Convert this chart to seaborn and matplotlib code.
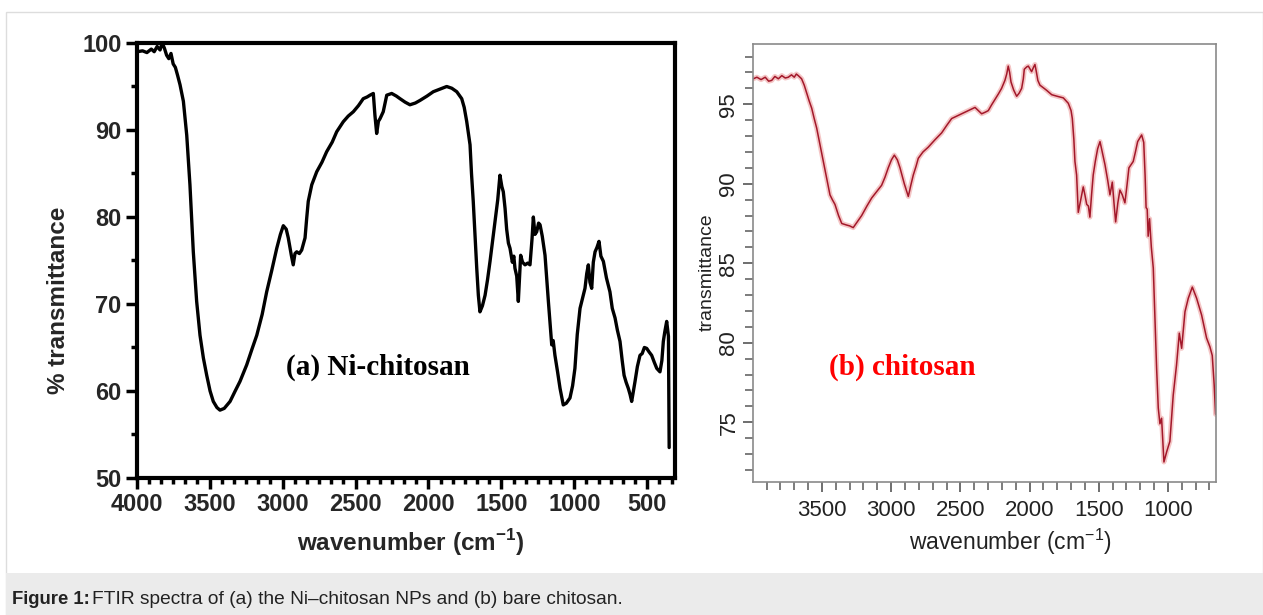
import numpy as np
import pandas as pd
import matplotlib
matplotlib.use("Agg")
import matplotlib.pyplot as plt
import seaborn as sns
from matplotlib.ticker import MultipleLocator, AutoMinorLocator
from matplotlib.patches import Rectangle

# ---------------- data ----------------
ni_wavenumber = [3995, 3960, 3930, 3900, 3880, 3860, 3840, 3825, 3810, 3795, 3780, 3765, 3750, 3735,
                 3720, 3703, 3680, 3657, 3635, 3612, 3589, 3566, 3543, 3520, 3497, 3475, 3450, 3429,
                 3400, 3360, 3325, 3292, 3246, 3210, 3177, 3140, 3109, 3075, 3040, 3015, 2995, 2975,
                 2961, 2940, 2927, 2915, 2903, 2885, 2869, 2846, 2835, 2824, 2800, 2766, 2730, 2698,
                 2660, 2629, 2584, 2550, 2515, 2480, 2447, 2420, 2401, 2378, 2367, 2355, 2343, 2332,
                 2310, 2286, 2252, 2220, 2195, 2160, 2127, 2090, 2058, 2010, 1967, 1920, 1875, 1840,
                 1806, 1772, 1755, 1738, 1715, 1705, 1693, 1680, 1669, 1658, 1647, 1630, 1612, 1595,
                 1578, 1560, 1544, 1525, 1510, 1497, 1487, 1475, 1464, 1452, 1441, 1425, 1415, 1407,
                 1395, 1384, 1368, 1355, 1338, 1320, 1304, 1290, 1281, 1270, 1258, 1245, 1235, 1220,
                 1201, 1190, 1178, 1165, 1155, 1145, 1133, 1115, 1098, 1076, 1055, 1030, 1012, 996,
                 980, 961, 945, 927, 915, 904, 893, 881, 870, 858, 845, 831, 818, 801, 780, 756, 740,
                 721, 705, 687, 672, 659, 645, 630, 618, 607, 595, 584, 568, 550, 535, 520, 504, 488,
                 470, 452, 435, 413, 400, 390, 380, 367, 355, 350]
ni_transmittance = [99.0, 99.1, 98.9, 99.3, 99.0, 99.6, 99.2, 100.0, 99.4, 98.6, 98.2, 98.8, 97.6, 97.2,
                    96.3, 95.2, 93.3, 89.4, 83.7, 76.0, 70.3, 66.4, 63.8, 61.8, 60.0, 58.8, 58.1, 57.8,
                    58.0, 58.8, 60.0, 61.1, 63.0, 64.8, 66.4, 68.8, 71.4, 73.8, 76.4, 78.0, 79.0, 78.6,
                    77.6, 75.6, 74.5, 75.8, 76.0, 75.8, 76.2, 77.6, 79.8, 81.8, 83.7, 85.2, 86.3, 87.5,
                    88.6, 89.8, 90.95, 91.6, 92.1, 92.8, 93.6, 93.8, 94.0, 94.2, 91.7, 89.6, 91.0, 91.3,
                    92.1, 94.0, 94.2, 93.9, 93.6, 93.2, 92.9, 93.1, 93.4, 93.9, 94.4, 94.7, 95.0, 94.8,
                    94.4, 93.6, 92.6, 91.0, 88.3, 85.0, 81.8, 77.5, 74.1, 71.0, 69.1, 69.8, 71.0, 72.8,
                    74.9, 77.3, 79.5, 82.0, 84.8, 83.5, 82.9, 81.0, 78.6, 77.0, 76.4, 74.8, 75.5, 74.1,
                    73.2, 70.3, 75.6, 74.8, 74.5, 74.7, 74.5, 77.5, 80.0, 78.0, 78.3, 79.3, 79.1, 77.8,
                    75.6, 73.0, 70.3, 67.5, 65.3, 65.8, 64.1, 62.2, 60.3, 58.4, 58.6, 59.2, 60.6, 62.6,
                    66.5, 69.5, 70.6, 71.8, 73.5, 74.5, 72.5, 71.8, 74.8, 76.0, 76.5, 77.2, 75.5, 74.9,
                    73.0, 71.4, 69.5, 68.4, 67.0, 65.7, 63.5, 61.8, 61.0, 60.3, 59.6, 58.8, 60.0, 61.1,
                    62.8, 64.1, 64.3, 65.0, 64.9, 64.5, 64.1, 63.3, 62.6, 62.2, 63.5, 65.7, 66.8, 68.0,
                    66.3, 53.5]

ch_wavenumber = [3996, 3970, 3940, 3910, 3885, 3863, 3840, 3815, 3790, 3765, 3743, 3720, 3700, 3685,
                 3671, 3647, 3628, 3610, 3592, 3574, 3556, 3538, 3515, 3490, 3465, 3442, 3425, 3406,
                 3380, 3357, 3340, 3321, 3300, 3274, 3245, 3213, 3175, 3141, 3105, 3069, 3045, 3021,
                 2998, 2977, 2955, 2936, 2905, 2876, 2858, 2840, 2820, 2804, 2770, 2732, 2685, 2635,
                 2600, 2563, 2515, 2467, 2430, 2394, 2370, 2346, 2320, 2298, 2275, 2250, 2225, 2202,
                 2178, 2165, 2154, 2144, 2134, 2115, 2093, 2075, 2057, 2045, 2038, 2020, 2009, 1995,
                 1985, 1970, 1961, 1950, 1940, 1925, 1880, 1840, 1800, 1756, 1720, 1700, 1691, 1680,
                 1672, 1660, 1648, 1630, 1612, 1600, 1587, 1575, 1564, 1552, 1540, 1525, 1508, 1491,
                 1475, 1455, 1435, 1419, 1402, 1390, 1378, 1362, 1347, 1330, 1311, 1296, 1282, 1251,
                 1235, 1219, 1190, 1175, 1165, 1158, 1150, 1143, 1133, 1120, 1106, 1094, 1082, 1070,
                 1058, 1046, 1029, 1009, 986, 962, 938, 918, 901, 877, 853, 824, 793, 757, 721, 697,
                 680, 666, 656]
ch_transmittance = [96.6, 96.7, 96.55, 96.7, 96.45, 96.5, 96.75, 96.6, 96.8, 96.65, 96.7, 96.85, 96.7,
                    96.9, 96.8, 96.6, 96.2, 95.7, 95.2, 94.75, 94.1, 93.5, 92.5, 91.4, 90.3, 89.3, 89.0,
                    88.7, 88.0, 87.5, 87.45, 87.4, 87.35, 87.24, 87.6, 88.0, 88.6, 89.1, 89.5, 89.9,
                    90.4, 91.0, 91.5, 91.8, 91.5, 91.0, 90.0, 89.2, 89.9, 90.55, 91.1, 91.6, 92.0, 92.3,
                    92.75, 93.2, 93.65, 94.1, 94.3, 94.5, 94.65, 94.8, 94.6, 94.4, 94.5, 94.6, 94.95,
                    95.3, 95.65, 96.0, 96.5, 96.9, 97.4, 97.0, 96.4, 95.9, 95.5, 95.7, 96.0, 96.6, 97.2,
                    97.35, 97.4, 97.2, 97.05, 97.35, 97.5, 97.0, 96.5, 96.2, 95.9, 95.6, 95.5, 95.4,
                    95.06, 94.6, 94.1, 92.8, 91.4, 90.55, 88.2, 89.0, 89.8, 89.3, 88.7, 88.6, 87.9,
                    89.3, 90.55, 91.4, 92.2, 92.65, 92.0, 91.2, 90.2, 89.3, 90.1, 88.8, 87.6, 88.8,
                    89.6, 89.3, 88.8, 89.9, 91.0, 91.4, 92.0, 92.65, 93.07, 92.6, 90.5, 88.5, 88.4,
                    86.7, 87.8, 86.0, 84.7, 81.5, 78.4, 75.9, 74.9, 75.25, 72.5, 73.15, 73.8, 76.7,
                    78.6, 80.6, 79.65, 81.95, 82.8, 83.5, 82.8, 81.75, 80.3, 79.75, 79.2, 77.35, 75.5]

left_xticks = [4000, 3500, 3000, 2500, 2000, 1500, 1000, 500]
left_yticks = [50, 60, 70, 80, 90, 100]
right_xticks = [3500, 3000, 2500, 2000, 1500, 1000]
right_yticks = [75, 80, 85, 90, 95]

caption_bold = "Figure 1:"
caption_rest = "FTIR spectra of (a) the Ni\u2013chitosan NPs and (b) bare chitosan."

df_ni = pd.DataFrame({"wavenumber": ni_wavenumber, "T": ni_transmittance})
df_ch = pd.DataFrame({"wavenumber": ch_wavenumber, "T": ch_transmittance})

# ---------------- style ----------------
sns.set_theme(style="white")
plt.rcParams["font.family"] = ["Liberation Sans", "DejaVu Sans"]
plt.rcParams["mathtext.fontset"] = "custom"
plt.rcParams["mathtext.rm"] = "Liberation Sans"
plt.rcParams["mathtext.bf"] = "Liberation Sans:bold"

W, H = 1263, 615
fig = plt.figure(figsize=(W / 100, H / 100), dpi=100)
fig.patch.set_facecolor("white")

# outer frame and caption band
fig.patches.append(Rectangle((6 / W, 0), 1 - 6 / W, 1 - 12 / H, transform=fig.transFigure,
                             facecolor="none", edgecolor="#dddddd", lw=1.0, zorder=0))
fig.patches.append(Rectangle((6 / W, 0), 1 - 6 / W, 42 / H, transform=fig.transFigure,
                             facecolor="#ebebeb", edgecolor="none", zorder=0))

# ---------------- left panel ----------------
axL = fig.add_axes([136.7 / W, (H - 478) / H, 538.3 / W, 435 / H])
sns.lineplot(data=df_ni, x="wavenumber", y="T", sort=False, estimator=None,
             color="black", lw=2.4, ax=axL)
axL.set_xlim(4000, 310)
axL.set_ylim(50, 100)
axL.set_xticks(left_xticks)
axL.set_yticks(left_yticks)
axL.xaxis.set_minor_locator(AutoMinorLocator(6))
axL.yaxis.set_minor_locator(AutoMinorLocator(2))
for s in axL.spines.values():
    s.set_linewidth(3)
    s.set_color("black")
axL.tick_params(axis="both", which="major", direction="out", length=8, width=2.5,
                color="black", labelsize=17, pad=3, bottom=True, left=True)
axL.tick_params(axis="both", which="minor", direction="out", length=4, width=2.5,
                color="black", bottom=True, left=True)
for lab in axL.get_xticklabels() + axL.get_yticklabels():
    lab.set_fontweight("bold")
axL.set_xlabel(r"wavenumber (cm$^{\mathbf{-1}}$)", fontsize=17.5, fontweight="bold")
axL.set_ylabel("% transmittance", fontsize=17.5, fontweight="bold")
axL.xaxis.set_label_coords(0.5096, -0.113)
axL.yaxis.set_label_coords(-0.124, 0.409)
axL.text(0.448, 0.255, "(a) Ni-chitosan", transform=axL.transAxes, ha="center", va="center",
         fontsize=21, fontweight="bold", family=["Liberation Serif", "DejaVu Serif"], color="black")

# ---------------- right panel ----------------
axR = fig.add_axes([753.3 / W, (H - 481.7) / H, 462.4 / W, 437.4 / H])
sns.lineplot(data=df_ch, x="wavenumber", y="T", sort=False, estimator=None,
             color="#f2b8b8", lw=3.6, alpha=0.8, ax=axR)
sns.lineplot(data=df_ch, x="wavenumber", y="T", sort=False, estimator=None,
             color="#a3182a", lw=1.1, ax=axR)
axR.set_xlim(3996, 655)
axR.set_ylim(71.26, 98.77)
axR.set_xticks(right_xticks)
axR.set_yticks(right_yticks)
axR.xaxis.set_minor_locator(MultipleLocator(100))
axR.yaxis.set_minor_locator(MultipleLocator(1))
for s in axR.spines.values():
    s.set_linewidth(1.2)
    s.set_color("#8a8a8a")
axR.tick_params(axis="x", which="major", direction="out", length=7, width=1.2,
                color="#555555", labelsize=16, pad=6, bottom=True, labelcolor="#222222")
axR.tick_params(axis="y", which="major", direction="out", length=7, width=1.2,
                color="#555555", labelsize=16, pad=3, left=True, labelcolor="#222222")
axR.tick_params(axis="both", which="minor", direction="out", length=6, width=1.2,
                color="#666666", bottom=True, left=True)
for lab in axR.get_yticklabels():
    lab.set_rotation(90)
    lab.set_va("center")
axR.set_xlabel(r"wavenumber (cm$^{-1}$)", fontsize=16.5, color="#222222")
axR.set_ylabel("transmittance", fontsize=14, color="#222222")
axR.xaxis.set_label_coords(0.557, -0.104)
axR.yaxis.set_label_coords(-0.081, 0.479)
axR.text(0.3216, 0.262, "(b) chitosan", transform=axR.transAxes, ha="center", va="center",
         fontsize=21, fontweight="bold", family=["Liberation Serif", "DejaVu Serif"], color="#ff0000")

# ---------------- caption ----------------
fig.text(12 / W, 1 - 600 / H, caption_bold, fontsize=13.3, fontweight="bold", va="center",
         color="#222222")
fig.text(92 / W, 1 - 600 / H, caption_rest, fontsize=13.8, va="center", color="#222222")

fig.savefig("out.png", dpi=100)
